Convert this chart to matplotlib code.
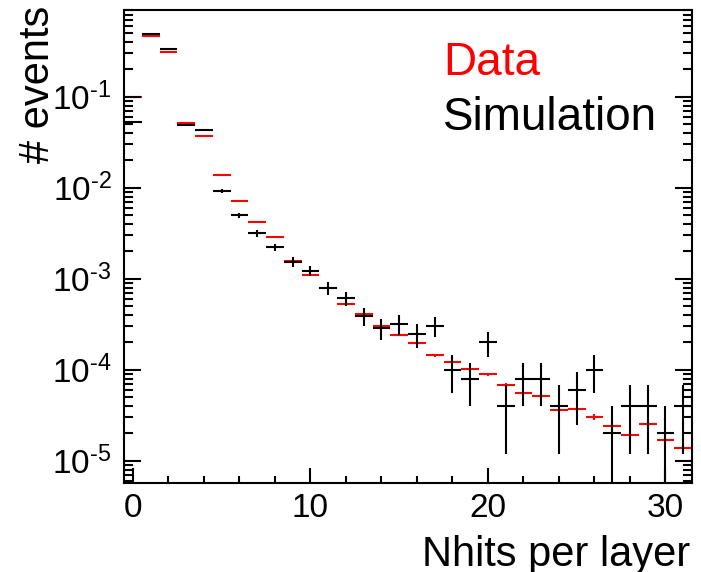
import matplotlib
matplotlib.use('Agg')
import matplotlib.pyplot as plt
from matplotlib.ticker import LogLocator, MultipleLocator, FuncFormatter, NullFormatter
import numpy as np

plt.rcParams['font.family'] = ['Liberation Sans', 'DejaVu Sans']
plt.rcParams['mathtext.fontset'] = 'custom'
plt.rcParams['mathtext.rm'] = 'Liberation Sans'
plt.rcParams['mathtext.it'] = 'Liberation Sans'
plt.rcParams['mathtext.default'] = 'regular'

# bin centres (Nhits per layer)
nhits = list(range(32))

# data (red), normalised
data_vals = [0.1, 0.465, 0.308, 0.051, 0.037, 0.0139, 0.0072, 0.00417, 0.0029, 0.00158,
             0.00111, 0.000785, 0.000527, 0.000409, 0.000305, 0.00024, 0.000195, 0.000144,
             0.000122, 0.000101, 8.9e-5, 6.8e-5, 5.5e-5, 5.1e-5, 3.6e-5, 3.67e-5,
             3.05e-5, 2.43e-5, 1.91e-5, 2.53e-5, 1.69e-5, 1.37e-5]
data_errs = [1.4e-4, 3e-4, 2.4e-4, 9.8e-5, 8.4e-5, 5.1e-5, 3.7e-5, 2.8e-5, 2.3e-5, 1.7e-5,
             1.45e-5, 1.22e-5, 1.0e-5, 8.8e-6, 7.6e-6, 6.8e-6, 6.1e-6, 5.2e-6, 4.8e-6,
             4.4e-6, 4.1e-6, 3.6e-6, 3.2e-6, 3.1e-6, 2.6e-6, 2.6e-6, 2.4e-6, 2.1e-6,
             1.9e-6, 2.2e-6, 1.8e-6, 1.6e-6]

# simulation (black)
sim_vals = [0.053, 0.485, 0.332, 0.0495, 0.043, 0.0092, 0.00498, 0.00316, 0.00223, 0.00154,
            0.00122, 0.00079, 0.00061, 0.00039, 0.000285, 0.00032, 0.000245, 0.000305,
            0.0001, 8e-5, 0.0002, 4e-5, 8e-5, 8e-5, 4e-5, 6e-5, 0.0001, 2e-5, 4e-5, 4e-5,
            2e-5, 4e-5]
sim_errs = [1.03e-3, 3.1e-3, 2.6e-3, 1.0e-3, 9.3e-4, 4.3e-4, 3.2e-4, 2.5e-4, 2.1e-4, 1.75e-4,
            1.56e-4, 1.25e-4, 1.1e-4, 8.8e-5, 7.5e-5, 8.0e-5, 7.0e-5, 7.8e-5, 4.5e-5,
            4.0e-5, 6.3e-5, 2.8e-5, 4.0e-5, 4.0e-5, 2.8e-5, 3.5e-5, 4.5e-5, 2.0e-5,
            2.8e-5, 2.8e-5, 2.0e-5, 2.8e-5]

fig = plt.figure(figsize=(7.01, 5.72), dpi=100)
ax = fig.add_axes([124/701, 1-483/572, (692-124)/701, (483-10)/572])
ax.set_axisbelow(False)

ax.errorbar(nhits, data_vals, xerr=0.5, yerr=data_errs, fmt='none', ecolor='red',
            elinewidth=1.5, capsize=0, zorder=2)
ax.errorbar(nhits, sim_vals, xerr=0.5, yerr=sim_errs, fmt='none', ecolor='black',
            elinewidth=1.5, capsize=0, zorder=3)

ax.set_yscale('log')
ax.set_xlim(-0.5, 31.5)
ax.set_ylim(5.7e-6, 0.9)


def pow_label(v, pos):
    e = int(round(np.log10(v)))
    if e < 0:
        return r'$10^{\text{-}%d}$' % (-e)
    return r'$10^{%d}$' % e


ax.xaxis.set_major_locator(MultipleLocator(10))
ax.xaxis.set_minor_locator(MultipleLocator(2))
ax.yaxis.set_major_locator(LogLocator(base=10, numticks=20))
ax.yaxis.set_minor_locator(LogLocator(base=10, subs=range(2, 10), numticks=20))
ax.yaxis.set_major_formatter(FuncFormatter(pow_label))
ax.yaxis.set_minor_formatter(NullFormatter())

for s in ax.spines.values():
    s.set_linewidth(1.5)
ax.tick_params(axis='both', which='both', direction='in', width=1.5, labelsize=24)
ax.tick_params(axis='y', which='both', left=True, right=True)
ax.tick_params(axis='y', which='major', length=12.2, pad=9)
ax.tick_params(axis='y', which='minor', length=6.5)
ax.tick_params(axis='x', which='major', length=10.8, pad=7)
ax.tick_params(axis='x', which='minor', length=5.4)

fig.text(443/701, 1-75/572, 'Data', color='red', fontsize=33, ha='left', va='baseline')
fig.text(443/701, 1-130/572, 'Simulation', color='black', fontsize=33, ha='left', va='baseline')

fig.text(690/701, 1-566/572, 'Nhits per layer', fontsize=30, ha='right', va='baseline')
fig.text(38/701, 1-6/572, '# events', fontsize=30, rotation=90, ha='center', va='top')

fig.savefig('out.png', dpi=100)
